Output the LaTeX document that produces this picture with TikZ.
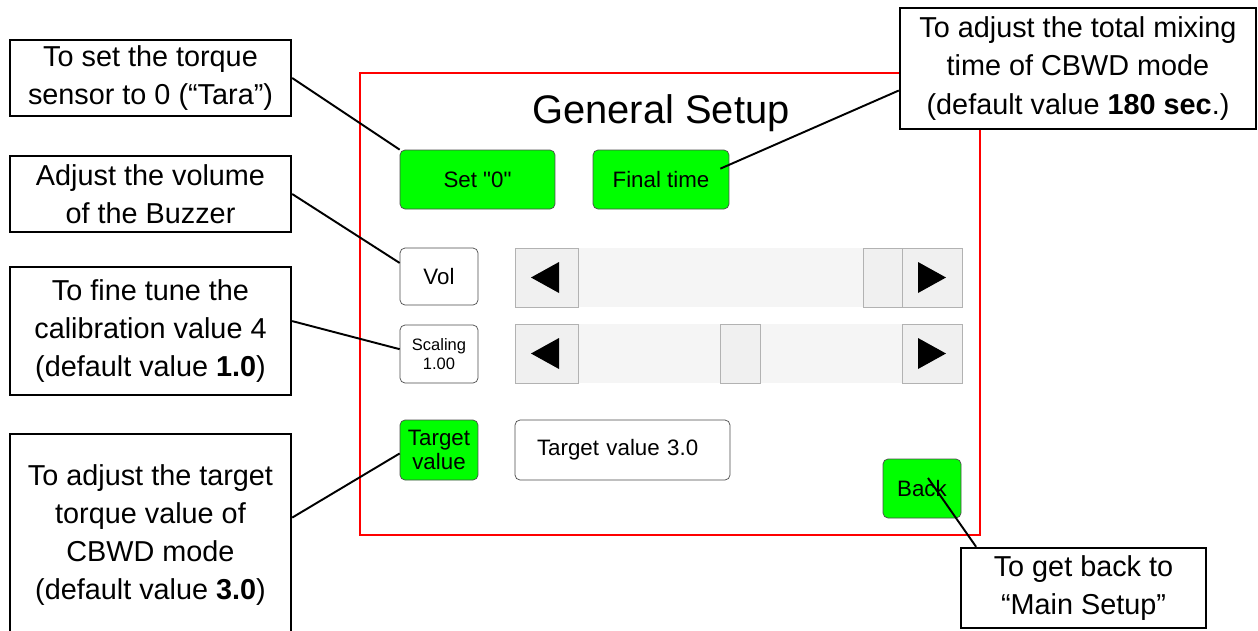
\documentclass[tikz,border=0pt]{standalone}
\usepackage{fontspec}
\setmainfont{Liberation Sans}[Ligatures=TeXOff]
\usetikzlibrary{calc}

\tikzset{
  note/.style={draw, line width=1.4pt, fill=white, align=center, inner sep=0pt,
    font=\fontsize{16.4}{21.8}\selectfont},
  screenbtn/.style={draw=black!70, rounded corners=0.1cm, align=center, inner sep=0pt,
    font=\fontsize{12.7}{13.6}\selectfont},
  greenbtn/.style={screenbtn, fill=green},
  whitebtn/.style={screenbtn, fill=white},
  sliderbtn/.style={fill=black!6, draw=black!30},
  pointer/.style={line width=1.1pt},
}

\begin{document}
\begin{tikzpicture}[x=0.02cm, y=-0.02cm]
        \useasboundingbox (0,0) rectangle (1258,630);
        % the setup screen
        \draw[red, line width=1.2pt] (360,73) rectangle (980,535);
        \node[font=\fontsize{22.7}{26}\selectfont] (title) at (661,113) {General Setup};
        \node[greenbtn, minimum width=3.1cm, minimum height=1.18cm] (setzero) at (477.5,179.5) {Set "0"};
        \node[greenbtn, minimum width=2.72cm, minimum height=1.18cm] (finaltime) at (661,179.5) {Final time};
        \node[whitebtn, minimum width=1.56cm, minimum height=1.14cm] (vol) at (439,276.5) {Vol};
        \node[whitebtn, minimum width=1.56cm, minimum height=1.16cm,
              font=\fontsize{9.4}{10.8}\selectfont] (scaling) at (439,354) {Scaling\\1.00};
        \node[greenbtn, minimum width=1.56cm, minimum height=1.2cm] (target) at (439,450) {Target\\value};
        \node[whitebtn, minimum width=4.3cm, minimum height=1.2cm, align=left,
              text width=3.42cm] (tgtval) at (622.5,450) {Target value 3.0};
        \node[greenbtn, minimum width=1.56cm, minimum height=1.18cm] (back) at (922,488.5) {Back};
        % sliders: top edge / thumb position
        \foreach \top/\thumb in {248/863, 324/720}{
            \fill[black!4] (515,\top) rectangle (962,\top+59);
            \draw[sliderbtn] (515,\top) rectangle (578,\top+59);
            \draw[sliderbtn] (\thumb,\top) rectangle (\thumb+40,\top+59);
            \draw[sliderbtn] (902,\top) rectangle (962,\top+59);
            \fill (531,\top+29.5) -- (559,\top+14) -- (559,\top+45) -- cycle;
            \fill (946,\top+29.5) -- (918,\top+14) -- (918,\top+45) -- cycle;
        }
        % callouts
        \node[note, minimum width=5.62cm, minimum height=1.52cm] (tara) at (150.5,78)
            {To set the torque\\sensor to 0 (“Tara”)};
        \node[note, minimum width=5.62cm, minimum height=1.52cm] (buzz) at (150.5,194)
            {Adjust the volume\\of the Buzzer};
        \node[note, minimum width=5.62cm, minimum height=2.56cm] (calib) at (150.5,331)
            {To fine tune the\\calibration value 4\\(default value \textbf{1.0})};
        \node[note, minimum width=5.62cm, minimum height=4.04cm] (tgtnote) at (150.5,535)
            {To adjust the target\\torque value of\\CBWD mode\\(default value \textbf{3.0})};
        \node[note, minimum width=7.12cm, minimum height=2.42cm] (mixnote) at (1078,68.5)
            {To adjust the total mixing\\time of CBWD mode\\(default value \textbf{180 sec}.)};
        \node[note, minimum width=4.9cm, minimum height=1.6cm] (backnote) at (1083.5,588)
            {To get back to\\“Main Setup”};
        \draw[pointer] (tara.east) -- (setzero.north west);
        \draw[pointer] (buzz.east) -- (vol.161);
        \draw[pointer] (calib.4) -- (scaling.173);
        \draw[pointer] (tgtnote.7) -- (target.185);
        \draw[pointer] (mixnote.187) -- ($(finaltime.north east)+(-9,19)$);
        \draw[pointer] (backnote.159) -- ($(back.center)+(6,-10.5)$);
    \end{tikzpicture}
\end{document}
